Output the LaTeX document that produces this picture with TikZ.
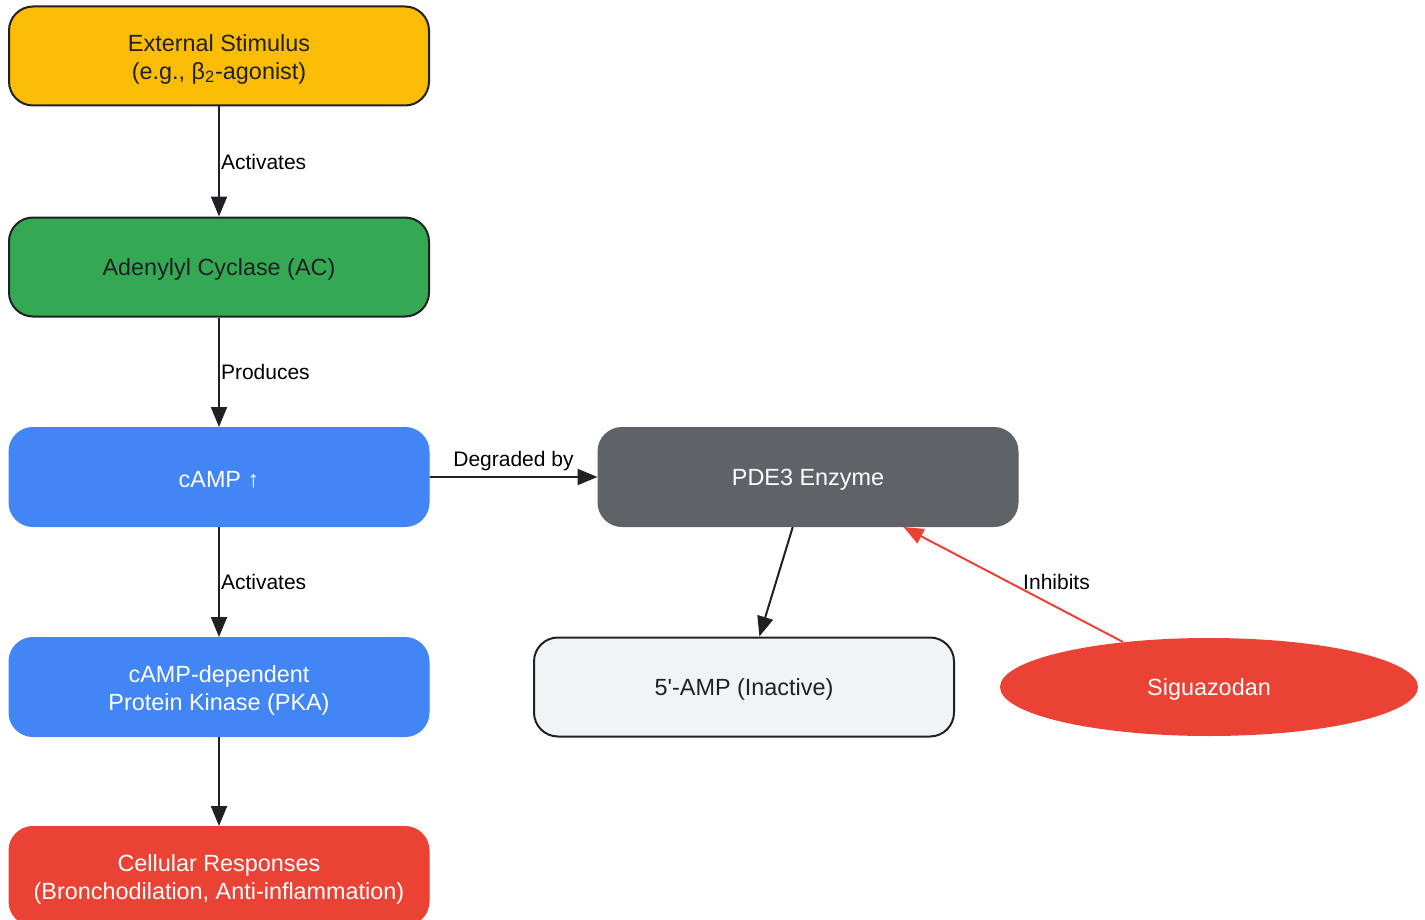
\documentclass[tikz,border=0pt]{standalone}
\usepackage{fontspec}
\setmainfont{Liberation Sans}
\usetikzlibrary{arrows.meta,shapes.geometric}
\definecolor{gyellow}{HTML}{FBBC05}
\definecolor{ggreen}{HTML}{34A853}
\definecolor{gblue}{HTML}{4285F4}
\definecolor{gred}{HTML}{EA4335}
\definecolor{ggray}{HTML}{5F6368}
\definecolor{glight}{HTML}{F1F3F4}
\definecolor{gdark}{HTML}{202124}
\newcommand\firstline{\rule{0pt}{11.6pt}}
\begin{document}
\begin{tikzpicture}[x=0.5pt,y=-0.5pt,
	txt/.style={font=\fontsize{11.7}{14}\selectfont,execute at begin node={\rule{0pt}{11pt}}},
	box/.style={txt,rectangle,rounded corners=12pt,minimum width=210pt,minimum height=49.5pt,align=center,text=gdark},
	outlined/.style={box,draw=gdark,line width=1pt},
	solid/.style={box,fill=#1,draw=#1,line width=0.5pt,text=white},
	lbl/.style={font=\fontsize{10.5}{12}\selectfont,text=black,inner sep=0.5pt},
	arr/.style={-{Triangle[length=10pt,width=8pt]},line width=1pt,draw=gdark,fill=gdark}]
	\useasboundingbox (0,0) rectangle (1425,920);
	\node[outlined,fill=gyellow] (stim) at (219,56) {\firstline External Stimulus\\(e.g., β\textsubscript{2}-agonist)};
	\node[outlined,fill=ggreen] (ac) at (219,267) {Adenylyl Cyclase (AC)};
	\node[solid=gblue] (camp) at (219,477) {cAMP ↑};
	\node[solid=gblue] (pka) at (219,687) {\firstline cAMP-dependent\\Protein Kinase (PKA)};
	\node[solid=gred] (resp) at (219,876) {\firstline Cellular Responses\\(Bronchodilation, Anti-inflammation)};
	\node[solid=ggray] (pde) at (808,477) {PDE3 Enzyme};
	\node[outlined,fill=glight] (amp) at (744,687) {5\textquotesingle-AMP (Inactive)};
	\node[txt,ellipse,fill=gred,minimum width=209pt,minimum height=49pt,inner sep=0pt,text=white] (sig) at (1209,687) {Siguazodan};
	\draw[arr] (stim) -- node[lbl,anchor=west]{Activates} (ac);
	\draw[arr] (ac) -- node[lbl,anchor=west]{Produces} (camp);
	\draw[arr] (camp) -- node[lbl,anchor=south,yshift=2pt]{Degraded by} (pde);
	\draw[arr] (camp) -- node[lbl,anchor=west]{Activates} (pka);
	\draw[arr] (pka) -- (resp);
	\draw[arr] (pde) -- (amp);
	\draw[arr,draw=gred,fill=gred] (sig) -- node[lbl,anchor=west,xshift=4pt,yshift=1pt]{Inhibits} (pde);
\end{tikzpicture}
\end{document}
